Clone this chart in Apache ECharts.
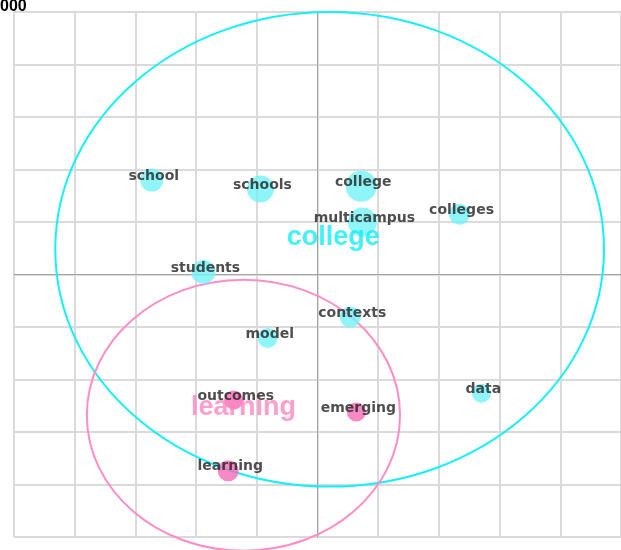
<!DOCTYPE html>
<html>
<head>
<meta charset="utf-8">
<script src="https://cdn.jsdelivr.net/npm/echarts@6/dist/echarts.min.js"></script>
<style>
  html, body { margin: 0; padding: 0; background: #fff; }
  #main { width: 621px; height: 550px; }
</style>
</head>
<body>
<div id="main"></div>
<script>
// words (bubbles)
var words = ['school', 'schools', 'college', 'multicampus', 'colleges', 'students', 'contexts', 'model', 'data', 'outcomes', 'emerging', 'learning'];
var wordX = [-2.73, -0.94, 0.72, 0.74, 2.34, -1.88, 0.54, -0.82, 2.70, -1.38, 0.64, -1.47];
var wordY = [1.80, 1.63, 1.68, 1.00, 1.15, 0.05, -0.81, -1.21, -2.26, -2.39, -2.62, -3.74];
var wordSize = [23, 27, 31, 29, 21, 24, 21, 20, 19, 19, 19, 21];
var wordCluster = [0, 0, 0, 0, 0, 0, 0, 0, 0, 1, 1, 1];

// clusters (big circles + names)
var clusterNames = ['college', 'learning'];
var clusterCX = [0.2, -1.22];
var clusterCY = [0.48, -2.68];
var clusterR = [4.52, 2.58];
var clusterLabelX = [0.26, -1.22];
var clusterLabelY = [0.70, -2.54];

var lineColors = ['#14f0f8', '#ff8cc6'];
var dotColors = ['#74f3f8', '#f56cb6'];
var nameColors = ['#12eef8', '#ff84c2'];

var chart = echarts.init(document.getElementById('main'));

var wordData = words.map(function (w, i) {
  return {
    name: w,
    value: [wordX[i], wordY[i]],
    symbolSize: wordSize[i],
    itemStyle: { color: dotColors[wordCluster[i]] }
  };
});

var circleData = clusterNames.map(function (n, i) {
  return [clusterCX[i], clusterCY[i], clusterR[i], i];
});

var nameData = clusterNames.map(function (n, i) {
  return {
    name: n,
    value: [clusterLabelX[i], clusterLabelY[i]],
    label: { color: nameColors[i] }
  };
});

var option = {
  animation: false,
  grid: { left: 14, right: 0, top: 12, bottom: 13 },
  xAxis: {
    type: 'value', min: -5, max: 5, interval: 1,
    axisLabel: { show: false },
    axisTick: { show: false },
    axisLine: { onZero: true, lineStyle: { color: '#a6a6a6', width: 1 } },
    splitLine: { lineStyle: { color: '#dadada', width: 2 } }
  },
  yAxis: {
    type: 'value', min: -5, max: 5, interval: 1,
    axisLabel: { show: false },
    axisTick: { show: false },
    axisLine: { onZero: true, lineStyle: { color: '#a6a6a6', width: 1 } },
    splitLine: { lineStyle: { color: '#dadada', width: 2 } }
  },
  graphic: [{
    type: 'text', left: 0, top: -1,
    style: { text: '000', font: 'bold 16px "Liberation Sans", Arial', fill: '#000' }
  }],
  series: [
    {
      type: 'custom',
      clip: false,
      z: 1,
      data: circleData,
      renderItem: function (params, api) {
        var c = api.coord([api.value(0), api.value(1)]);
        var s = api.size([api.value(2), api.value(2)]);
        return {
          type: 'ellipse',
          shape: { cx: c[0], cy: c[1], rx: s[0], ry: s[1] },
          style: { fill: 'none', stroke: lineColors[api.value(3)], lineWidth: 2 }
        };
      }
    },
    {
      type: 'scatter',
      z: 2,
      data: wordData,
      label: { show: false }
    },
    {
      type: 'scatter',
      z: 3,
      symbolSize: 0,
      data: nameData,
      label: {
        show: true, position: 'inside', formatter: '{b}',
        fontFamily: '"Liberation Sans", Arial', fontWeight: 'bold', fontSize: 27
      }
    },
    {
      type: 'scatter',
      z: 4,
      symbolSize: 0,
      data: words.map(function (w, i) { return { name: w, value: [wordX[i], wordY[i]] }; }),
      label: {
        show: true, position: 'inside', offset: [2, -4], formatter: '{b}',
        fontFamily: '"DejaVu Sans"', fontWeight: 'bold', fontSize: 14,
        color: '#222'
      }
    }
  ]
};

chart.setOption(option);
</script>
</body>
</html>
